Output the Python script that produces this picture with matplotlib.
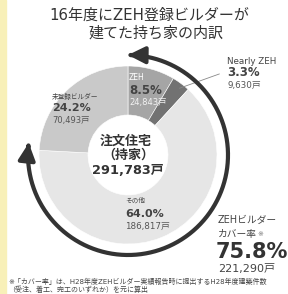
import numpy as np
import matplotlib.pyplot as plt
from matplotlib.patches import FancyArrowPatch, Rectangle
from matplotlib.path import Path

plt.rcParams['font.family'] = ['DejaVu Sans', 'Noto Sans CJK JP']

# ---- data ----
labels = ['ZEH', 'Nearly ZEH', 'その他', '未登録ビルダー']
homes = [24843, 9630, 186817, 70493]
shares = [8.5, 3.3, 64.0, 24.2]
total = 291783
cover_share = 75.8
cover_homes = 221290
colors = ['#a5a5a5', '#727272', '#e6e6e6', '#c9c9c9']

W, H = 288, 294
cx, cy = 128, 155      # donut centre, pixels from top-left
r_out, r_in = 89, 40
r_arc = 100

def Y(y):
    return H - y

fig = plt.figure(figsize=(W / 100, H / 100), dpi=100)
ax = fig.add_axes([0, 0, 1, 1])

# scan edge
fig.patches.append(Rectangle((0, 0), 6 / W, 1, transform=fig.transFigure,
                             color='#f8f0b8', zorder=0))

ax.pie(homes, colors=colors, startangle=90, counterclock=False,
       radius=r_out, center=(cx, Y(cy)),
       wedgeprops=dict(width=r_out - r_in, edgecolor='white', linewidth=0.4))

# double headed arc around the ZEH-builder part (75.8%)
th = np.radians(np.linspace(90, 90 - 360 * cover_share / 100 - 4, 200))
verts = np.column_stack([cx + r_arc * np.cos(th), Y(cy) + r_arc * np.sin(th)])
arc = FancyArrowPatch(path=Path(verts),
                      arrowstyle='<|-|>,head_length=1.0,head_width=0.5',
                      mutation_scale=10, lw=3, color='#333333', zorder=5)
ax.add_patch(arc)

def label(x, y, s, size, color='#444444', weight='normal', ha='left'):
    ax.text(x, Y(y), s, fontsize=size, color=color, fontweight=weight,
            va='center', ha=ha)

# title
label(149, 15, '16年度にZEH登録ビルダーが', 10.8, '#333333', ha='center')
label(156, 33, '建てた持ち家の内訳', 10.8, '#333333', ha='center')

# segment labels
label(52, 96, labels[3], 4.8)
label(52, 108, f'{shares[3]}%', 8, weight='bold')
label(52, 121, f'{homes[3]:,}戸', 6, '#555555')

label(129, 77, labels[0], 5.5, 'white')
label(129, 90, f'{shares[0]}%', 8.5, weight='bold')
label(129, 103, f'{homes[0]:,}戸', 6, '#f2f2f2')

label(227, 62, labels[1], 6.3)
label(227, 73, f'{shares[1]}%', 8.5, weight='bold')
label(227, 85, f'{homes[1]:,}戸', 6.3, '#555555')

label(125, 201, labels[2], 4.8)
label(125, 214, f'{shares[2]}%', 8, weight='bold')
label(125, 226, f'{homes[2]:,}戸', 6.3, '#555555')

# leader line to the Nearly ZEH wedge
mid = np.radians(90 - 360 * (homes[0] + homes[1] / 2) / total)
ax.annotate('', xy=(cx + 82 * np.cos(mid), Y(cy) + 82 * np.sin(mid)),
            xytext=(222, Y(73)),
            arrowprops=dict(arrowstyle='-', color='#888888', lw=0.6))

# centre
label(126, 141, '注文住宅', 9.4, '#333333', 'bold', ha='center')
label(128, 155, '（持家）', 9.4, '#333333', 'bold', ha='center')
label(128, 170, f'{total:,}戸', 9.3, '#333333', 'bold', ha='center')

# coverage
label(218, 220, 'ZEHビルダー', 7, '#444444')
label(218, 234, 'カバー率', 7, '#444444')
label(257, 234, '※', 5, '#777777')
label(216, 252, f'{cover_share}%', 15, '#333333', 'bold')
label(218, 269, f'{cover_homes:,}戸', 8, '#444444')

# footnote
label(8, 281, '※「カバー率」は、H28年度ZEHビルダー実績報告時に提出するH28年度建築件数', 5)
label(8, 289, '（受注、着工、完工のいずれか）を元に算出', 5)

ax.set_xlim(0, W)
ax.set_ylim(0, H)
ax.set_aspect('equal')
ax.axis('off')
fig.savefig('out.png', dpi=100)
